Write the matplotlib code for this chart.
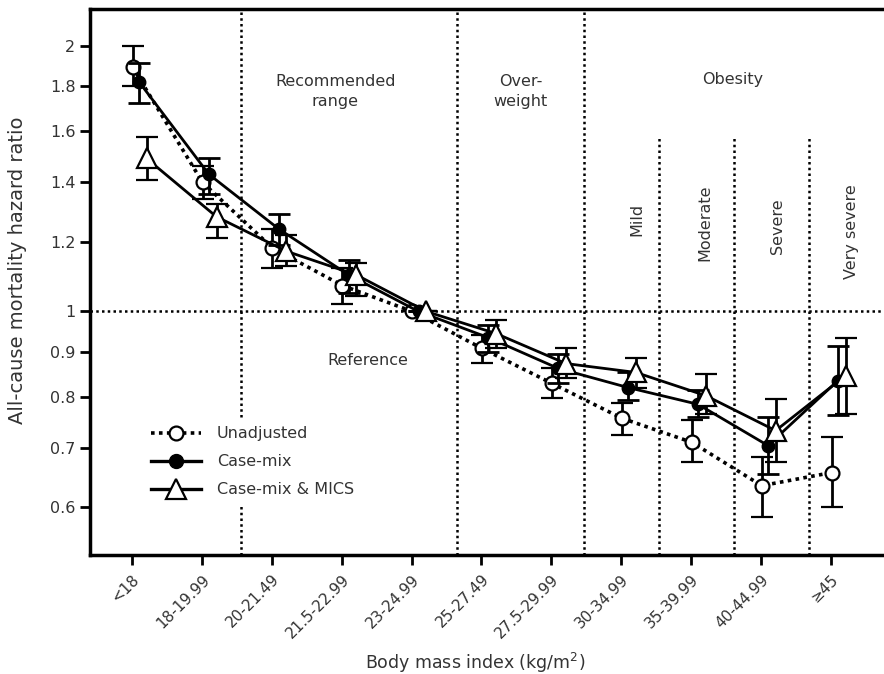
import matplotlib
matplotlib.use("Agg")
import matplotlib.pyplot as plt
import numpy as np
from matplotlib.lines import Line2D
from matplotlib.ticker import FixedLocator, NullLocator, FixedFormatter

plt.rcParams['font.family'] = ['DejaVu Sans']

categories = ['<18', '18-19.99', '20-21.49', '21.5-22.99', '23-24.99', '25-27.49',
              '27.5-29.99', '30-34.99', '35-39.99', '40-44.99', '≥45']

unadj = [1.89, 1.40, 1.18, 1.07, 1.00, 0.908, 0.829, 0.757, 0.711, 0.635, 0.657]
unadj_lo = [1.80, 1.34, 1.12, 1.02, 1.00, 0.875, 0.797, 0.724, 0.675, 0.585, 0.600]
unadj_hi = [2.00, 1.46, 1.24, 1.12, 1.00, 0.940, 0.862, 0.787, 0.753, 0.685, 0.720]

casemix = [1.82, 1.43, 1.24, 1.10, 1.00, 0.934, 0.862, 0.820, 0.785, 0.705, 0.835]
casemix_lo = [1.72, 1.36, 1.19, 1.05, 1.00, 0.900, 0.830, 0.793, 0.760, 0.655, 0.763]
casemix_hi = [1.91, 1.49, 1.29, 1.145, 1.00, 0.965, 0.895, 0.855, 0.815, 0.760, 0.915]

mics = [1.49, 1.28, 1.17, 1.10, 1.00, 0.944, 0.873, 0.853, 0.803, 0.733, 0.846]
mics_lo = [1.41, 1.21, 1.127, 1.04, 1.00, 0.910, 0.840, 0.820, 0.765, 0.675, 0.765]
mics_hi = [1.575, 1.325, 1.22, 1.135, 1.00, 0.977, 0.908, 0.885, 0.850, 0.795, 0.932]

yticks = [0.6, 0.7, 0.8, 0.9, 1, 1.2, 1.4, 1.6, 1.8, 2]
ytick_labels = ['0.6', '0.7', '0.8', '0.9', '1', '1.2', '1.4', '1.6', '1.8', '2']

main_bounds = [1.56, 4.65, 6.47]
sub_bounds = [7.54, 8.61, 9.68]

fig = plt.figure(figsize=(8.84, 6.74), dpi=100)
ax = fig.add_axes([90/884, 1-555/674, 1-90/884, (555-9)/674])
ax.set_yscale('log')
ax.set_ylim(0.53, 2.2)
ax.set_xlim(-0.6, 10.76)

x = np.arange(len(categories))

def err(v, lo, hi):
    v = np.array(v); lo = np.array(lo); hi = np.array(hi)
    return np.vstack([v - lo, hi - v])

dot = (0, (1, 1.3))
for b in main_bounds:
    ax.axvline(b, color='black', ls=dot, lw=1.8, zorder=1)
for b in sub_bounds:
    ax.plot([b, b], [0.53, 1.57], color='black', ls=dot, lw=1.8, zorder=1)
ax.axhline(1.0, color='black', ls=dot, lw=1.8, zorder=1)

lw = 2.0
udot = (0, (1, 1.2))
ax.errorbar(x + 0.01, unadj, yerr=err(unadj, unadj_lo, unadj_hi), color='black',
            ls=udot, lw=2.6, marker='o', ms=10, mfc='white', mec='black', mew=1.6,
            ecolor='black', elinewidth=lw, capsize=8, capthick=lw, zorder=3)
ax.errorbar(x + 0.1, casemix, yerr=err(casemix, casemix_lo, casemix_hi), color='black',
            ls='-', lw=lw, marker='o', ms=9, mfc='black', mec='black',
            ecolor='black', elinewidth=lw, capsize=8, capthick=lw, zorder=4)
ax.errorbar(x + 0.21, mics, yerr=err(mics, mics_lo, mics_hi), color='black',
            ls='-', lw=lw, marker='^', ms=15, mfc='white', mec='black', mew=1.6,
            ecolor='black', elinewidth=lw, capsize=8, capthick=lw, zorder=5)

ax.yaxis.set_major_locator(FixedLocator(yticks))
ax.yaxis.set_major_formatter(FixedFormatter(ytick_labels))
ax.yaxis.set_minor_locator(NullLocator())
ax.set_xticks(x)
ax.set_xticklabels(categories, rotation=45, ha='right', rotation_mode='anchor',
                   fontsize=11, color='#333333')
ax.tick_params(axis='y', labelsize=11.5, labelcolor='#333333', width=2, length=7)
ax.tick_params(axis='x', width=2, length=7, pad=5)

for s in ['left', 'bottom', 'top']:
    ax.spines[s].set_linewidth(2.5)
ax.spines['right'].set_visible(False)

tc = '#333333'
fs = 11.5
ax.text(2.91, 1.775, 'Recommended\nrange', ha='center', va='center', fontsize=fs, color=tc, linespacing=1.45)
ax.text(5.56, 1.775, 'Over-\nweight', ha='center', va='center', fontsize=fs, color=tc, linespacing=1.45)
ax.text(8.59, 1.83, 'Obesity', ha='center', va='center', fontsize=fs, color=tc)
ax.text(7.23, 1.27, 'Mild', ha='center', va='center', rotation=90, fontsize=fs, color=tc)
ax.text(8.20, 1.26, 'Moderate', ha='center', va='center', rotation=90, fontsize=fs, color=tc)
ax.text(9.23, 1.25, 'Severe', ha='center', va='center', rotation=90, fontsize=fs, color=tc)
ax.text(10.3, 1.23, 'Very severe', ha='center', va='center', rotation=90, fontsize=fs, color=tc)
ax.text(3.37, 0.88, 'Reference', ha='center', va='center', fontsize=fs, color=tc)

handles = [
    Line2D([], [], color='black', ls=udot, lw=2.6, marker='o', ms=10, mfc='white', mec='black', mew=1.6),
    Line2D([], [], color='black', ls='-', lw=2.4, marker='o', ms=10, mfc='black', mec='black'),
    Line2D([], [], color='black', ls='-', lw=2.4, marker='^', ms=15, mfc='white', mec='black', mew=1.6),
]
labels = ['Unadjusted', 'Case-mix', 'Case-mix & MICS']
leg = ax.legend(handles, labels, loc='upper left', bbox_to_anchor=(0.057, 0.265), frameon=True,
                fontsize=11.5, handlelength=3.1, labelspacing=0.82, borderpad=0.5,
                handletextpad=1.0)
leg.get_frame().set_facecolor('white')
leg.get_frame().set_edgecolor('none')
leg.get_frame().set_alpha(1)
leg.set_zorder(10)
for t in leg.get_texts():
    t.set_color('#333333')

fig.text(18/884, 1-270/674, 'All-cause mortality hazard ratio', rotation=90,
         ha='center', va='center', fontsize=14, color='#333333')
fig.text(475/884, 1-663/674, 'Body mass index (kg/m$^2$)', ha='center', va='center',
         fontsize=12.5, color='#333333')

fig.savefig('out.png', dpi=100)
